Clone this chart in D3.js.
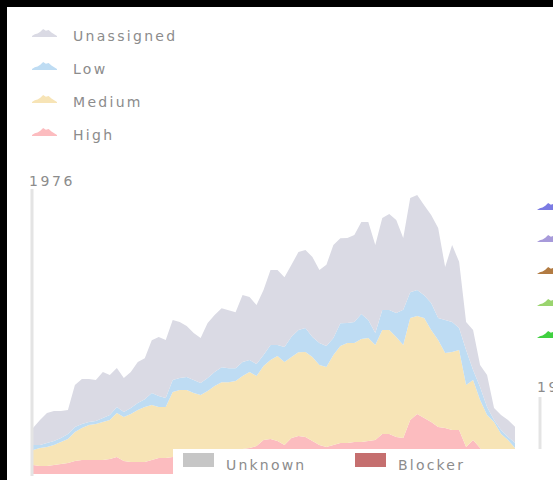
<!DOCTYPE html>
<html>
<head>
<meta charset="utf-8">
<script src="https://cdn.jsdelivr.net/npm/d3@7"></script>
<style>
  html, body { margin: 0; padding: 0; background: #000; overflow: hidden; }
  svg { display: block; }
  text { font-family: "DejaVu Sans", sans-serif; fill: #8c8c8c; }
</style>
</head>
<body>
<div id="chart"></div>
<script>
// weekly buckets, issue counts per priority
var weeks = d3.range(70);
var high = [62,55,55,62,69,76,90,97,97,97,97,104,118,90,83,83,83,97,111,111,
            118,132,139,146,146,153,153,159,159,166,173,180,194,236,243,229,201,250,263,257,
            229,201,187,201,215,215,222,222,229,236,277,277,257,250,374,416,388,361,326,319,
            305,305,187,236,180,132,97,69,49,28];
var medium = [104,125,132,139,153,166,201,222,243,250,263,270,305,305,333,360,381,381,354,354,
              451,451,444,416,402,423,458,478,478,478,506,527,485,513,548,589,575,562,582,589,
              582,555,555,624,672,693,686,714,714,659,721,721,693,645,707,679,693,638,603,520,
              541,555,430,416,333,277,263,208,187,153];
var low = [35,21,28,28,28,35,35,28,21,21,28,35,42,35,42,49,55,83,76,62,
           83,83,90,90,83,90,97,104,97,90,97,83,83,76,104,76,104,139,153,166,
           139,153,146,118,159,139,146,173,125,83,139,139,166,243,180,180,159,187,153,229,
           208,153,243,69,90,55,14,28,21,35];
var unassigned = [118,173,208,208,187,166,291,312,298,284,319,277,270,236,250,284,284,367,409,402,
                  416,388,354,326,312,381,395,409,402,388,465,437,409,451,520,520,485,499,541,541,
                  555,506,562,645,589,589,603,638,679,610,638,666,645,499,652,659,624,610,624,367,
                  534,458,194,277,153,222,83,104,118,111];
var yMax = 1976;

var keys = ["High", "Medium", "Low", "Unassigned"];
var legendTop = ["Unassigned", "Low", "Medium", "High"];
var colors = {Unassigned: "#dadae4", Low: "#bedcf3", Medium: "#f7e4b6", High: "#fcbcbf"};
var bottomLegend = ["Unknown", "Blocker"];
var bottomColors = ["#c6c6c6", "#c56f6f"];
var sideColors = ["#7b7be3", "#a79ada", "#b27b42", "#9ad46e", "#40d040"];

var W = 553, H = 480;
var svg = d3.select("#chart").append("svg")
    .attr("width", W)
    .attr("height", H);

// white panel inside the black frame
svg.append("rect")
    .attr("x", 7).attr("y", 7)
    .attr("width", W - 7).attr("height", H - 7)
    .attr("fill", "#fff");

var rows = weeks.map(function(w, i) {
    return {week: w, High: high[i], Medium: medium[i], Low: low[i], Unassigned: unassigned[i]};
});

var x = d3.scaleLinear().domain([0, weeks.length - 1]).range([33, 515]);
var y = d3.scaleLinear().domain([0, yMax]).range([474, 189]);

var series = d3.stack().keys(keys)(rows);

var area = d3.area()
    .x(function(d) { return x(d.data.week); })
    .y0(function(d) { return y(d[0]); })
    .y1(function(d) { return y(d[1]); })
    .curve(d3.curveLinear);

svg.append("g")
    .selectAll("path")
    .data(series)
    .join("path")
    .attr("d", area)
    .attr("fill", function(d) { return colors[d.key]; });

// y axis line + max label
svg.append("line")
    .attr("x1", 32).attr("x2", 32)
    .attr("y1", y(yMax)).attr("y2", y(0) + 2)
    .attr("stroke", "#e4e4e4")
    .attr("stroke-width", 3);

svg.append("text")
    .attr("x", 29).attr("y", 186)
    .style("font-size", "14px")
    .style("letter-spacing", "2.6px")
    .text(yMax);

// little mountain glyph used by the legends
var glyph = [0, 2, 3, 5, 8, 6, 7, 4, 2, 0];
var gx = d3.scaleLinear().domain([0, glyph.length - 1]).range([0, 25]);
var gy = d3.scaleLinear().domain([0, 8]).range([0, -7]);
var glyphArea = d3.area()
    .x(function(d, i) { return gx(i); })
    .y0(0)
    .y1(function(d) { return gy(d); });

var topLegend = svg.append("g")
    .selectAll("g")
    .data(legendTop)
    .join("g")
    .attr("transform", function(d, i) { return "translate(32," + (36 + i * 33) + ")"; });

topLegend.append("path")
    .attr("d", glyphArea(glyph))
    .attr("fill", function(d) { return colors[d]; });
topLegend.append("line")
    .attr("x1", 0).attr("x2", 25).attr("y1", 0.5).attr("y2", 0.5)
    .attr("stroke", function(d) { return colors[d]; });

topLegend.append("text")
    .attr("x", 41)
    .attr("y", 5)
    .style("font-size", "14px")
    .style("letter-spacing", "2.3px")
    .text(function(d) { return d; });

// right-hand legend (cut off by the frame)
var side = svg.append("g")
    .selectAll("g")
    .data(sideColors)
    .join("g")
    .attr("transform", function(d, i) { return "translate(537," + (210 + i * 32) + ")"; });
side.append("path")
    .attr("d", glyphArea(glyph))
    .attr("fill", function(d) { return d; });

svg.append("text")
    .attr("x", 537).attr("y", 392)
    .style("font-size", "14px")
    .style("letter-spacing", "2.6px")
    .text("1976");
svg.append("line")
    .attr("x1", 540).attr("x2", 540)
    .attr("y1", 397).attr("y2", 449)
    .attr("stroke", "#e4e4e4")
    .attr("stroke-width", 3);

// bottom legend box overlapping the chart
svg.append("rect")
    .attr("x", 173).attr("y", 449)
    .attr("width", W - 173).attr("height", H - 449)
    .attr("fill", "#fff");

var bottom = svg.append("g")
    .selectAll("g")
    .data(bottomLegend)
    .join("g")
    .attr("transform", function(d, i) { return "translate(" + (183 + i * 172) + ",453)"; });

bottom.append("rect")
    .attr("width", 31).attr("height", 14)
    .attr("fill", function(d, i) { return bottomColors[i]; });

bottom.append("text")
    .attr("x", 43)
    .attr("y", 17)
    .style("font-size", "14px")
    .style("letter-spacing", "2.2px")
    .text(function(d) { return d; });
</script>
</body>
</html>
